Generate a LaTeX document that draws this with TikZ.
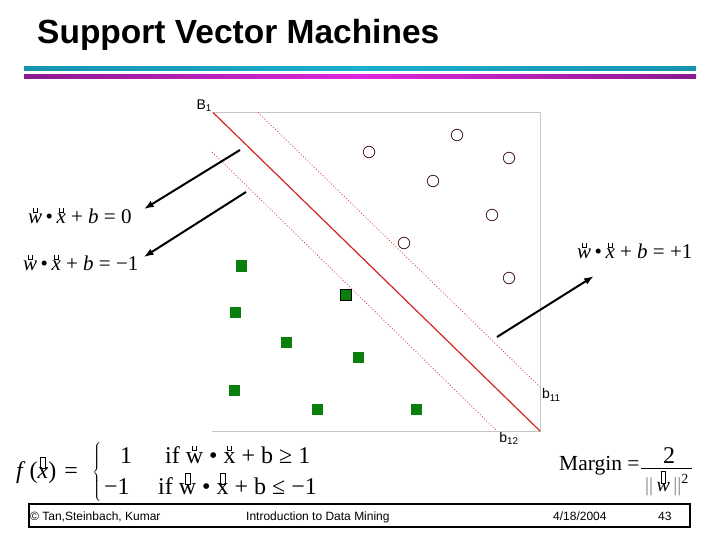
\documentclass[tikz,border=0pt]{standalone}
\usepackage{fontspec}
\setmainfont{Liberation Serif}
\newfontfamily\arialfont{Liberation Sans}
\usepackage{tikz}
\usetikzlibrary{arrows.meta,positioning}
\definecolor{titlecyan}{HTML}{1AAFCF}
\definecolor{titlepurple}{HTML}{8A1A8E}
\definecolor{titlemagenta}{HTML}{DD28DD}
\definecolor{boundred}{HTML}{D42424}
\definecolor{plotgray}{HTML}{C6C6C6}
\definecolor{ptgreen}{HTML}{0B7F0B}
\definecolor{ptbrown}{HTML}{4A2222}
% broken vector accents as printed
\newcommand\ucap{\hbox{\vrule width .9pt height 5pt\vbox to 5pt{\vfil\hrule width 3.2pt height .9pt}\vrule width .9pt height 5pt}}
\newcommand\uacc[1]{\leavevmode\vbox{\offinterlineskip\halign{\hfil##\hfil\cr\ucap\cr\noalign{\kern1pt}\hbox{#1}\cr}}}
\newcommand\rcap[1]{\hbox{\fboxsep0pt\fboxrule.6pt\fbox{\vrule width0pt height #1\kern4pt}}}
\newcommand\racc[2][11pt]{\leavevmode\vbox{\offinterlineskip\halign{\hfil##\hfil\cr\rcap{#1}\cr\noalign{\kern-2pt}\hbox{#2}\cr}}}
\tikzset{
  eqlabel/.style={inner sep=0pt,anchor=base west,font=\fontsize{21bp}{25bp}\selectfont},
  fxlabel/.style={inner sep=0pt,anchor=base west,font=\fontsize{24bp}{28bp}\selectfont},
  footlabel/.style={inner sep=0pt,anchor=base west,font=\arialfont\fontsize{12bp}{14bp}\selectfont},
  linelabel/.style={inner sep=0pt,font=\arialfont\fontsize{14bp}{16bp}\selectfont},
  circpt/.style={circle,draw=ptbrown,line width=0.8bp,minimum size=11.5bp,inner sep=0pt},
  sqpt/.style={rectangle,fill=ptgreen,minimum size=11bp,inner sep=0pt},
  eqarrow/.style={-{Latex[length=10bp,width=7bp]},line width=2bp,black},
  marginline/.style={boundred!80,line width=0.8bp,dash pattern=on 1bp off 2bp},
}

\begin{document}
\begin{tikzpicture}[x=1bp,y=-1bp]
  \useasboundingbox (0,0) rectangle (720,540);
  % title and rules
  \node[inner sep=0pt,anchor=base west,font=\arialfont\bfseries\fontsize{33.5bp}{38bp}\selectfont] (title) at (37,44) {Support Vector Machines};
  \fill[left color=titlecyan!85!black,right color=titlecyan!85!black,middle color=titlecyan] (24,66.5) rectangle (696,71);
  \fill[left color=titlepurple,right color=titlepurple,middle color=titlemagenta] (24,74.5) rectangle (696,78.5);
  % plot frame
  \draw[plotgray,line width=1bp] (213,112.5) -- (540,112.5) -- (540,431) -- (212,431);
  % decision boundary and margins
  \coordinate (Btop) at (213,112.5);
  \coordinate (Bbot) at (540,431);
  \coordinate (btop) at (258,112.5);
  \coordinate (bbot) at (540,387);
  \coordinate (ctop) at (212,152);
  \coordinate (cbot) at (497,431);
  \draw[boundred,line width=1.2bp] (Btop) -- (Bbot);
  \draw[marginline] (btop) -- (bbot);
  \draw[marginline] (ctop) -- (cbot);
  \node[linelabel,anchor=south east,inner sep=1pt] (Blbl) at (Btop) {B\textsubscript{1}};
  \node[linelabel,anchor=west,inner sep=2pt] (b11lbl) at ([yshift=-8bp]bbot) {b\textsubscript{11}};
  \node[linelabel,anchor=north,inner sep=2pt] (b12lbl) at ([xshift=12bp,yshift=1bp]cbot) {b\textsubscript{12}};
  % data points
  \foreach \x/\y [count=\i] in {369/152,457/135,509/158,433/181,492/215,404/243,509/278}
    \node[circpt] (circ\i) at (\x,\y) {};
  \foreach \x/\y [count=\i] in {241/266,235/312,286/342,358/357,234/390,317/409,416/409}
    \node[sqpt] (sq\i) at (\x,\y) {};
  \node[sqpt,draw=black,line width=0.8bp,minimum size=10.5bp] (sqsupport) at (346,295) {};
  % hyperplane equations
  \node[eqlabel] (eqzero) at (28,224) {\uacc{\textit{w}}\,•\,\uacc{\textit{x}} + \textit{b} = 0};
  \node[eqlabel] (eqminus) at (23,271) {\uacc{\textit{w}}\,•\,\uacc{\textit{x}} + \textit{b} = −1};
  \node[eqlabel] (eqplus) at (577,259) {\uacc{\textit{w}}\,•\,\uacc{\textit{x}} + \textit{b} = +1};
  \coordinate (azero) at (240,150);
  \coordinate (aminus) at (246,192);
  \coordinate (aplus) at (497,337);
  \draw[eqarrow] (azero) -- ([xshift=12bp,yshift=-1bp]eqzero.north east);
  \draw[eqarrow] (aminus) -- ([xshift=5bp,yshift=-2bp]eqminus.north east);
  \draw[eqarrow] (aplus) -- ([xshift=17bp,yshift=-17bp]eqplus.base west);
  % classifier
  \node[fxlabel] (fxlhs) at (16,478) {\textit{f}\,(\racc{\textit{x}})\,\,=};
  \node[inner sep=0pt] (fxbrace) at (97.5,472) {$\left\{\rule[-27bp]{0pt}{56bp}\right.$};
  \node[fxlabel] (rowone) at (120,463) {1};
  \node[fxlabel] (condone) at (165,463) {if \uacc{w} • \uacc{x} + b ≥ 1};
  \node[fxlabel] (rowtwo) at (104,494) {−1};
  \node[fxlabel] (condtwo) at (158,494) {if \racc{w} • \racc{x} + b ≤ −1};
  % margin
  \node[fxlabel,font=\fontsize{21.5bp}{26bp}\selectfont] (margin) at (559,470) {Margin =};
  \draw[line width=1bp] (641,468) -- (692,468);
  \node[fxlabel,anchor=base] (marginnum) at (669,463) {2};
  \node[inner sep=0pt,anchor=base,font=\fontsize{20bp}{24bp}\selectfont] (margindenom) at (667,491) {{\color{gray}||}\,\racc[12pt]{\textit{w}}\,{\color{gray}||}\textsuperscript{2}};
  % footer
  \draw[line width=2bp] (29,503.5) rectangle (690,527);
  \node[footlabel] (footauth) at (30,520) {© Tan,Steinbach, Kumar};
  \node[footlabel] (footbook) at (246,520) {Introduction to Data Mining};
  \node[footlabel] (footdate) at (553,520) {4/18/2004};
  \node[footlabel] (footpage) at (658,520) {43};
\end{tikzpicture}
\end{document}
